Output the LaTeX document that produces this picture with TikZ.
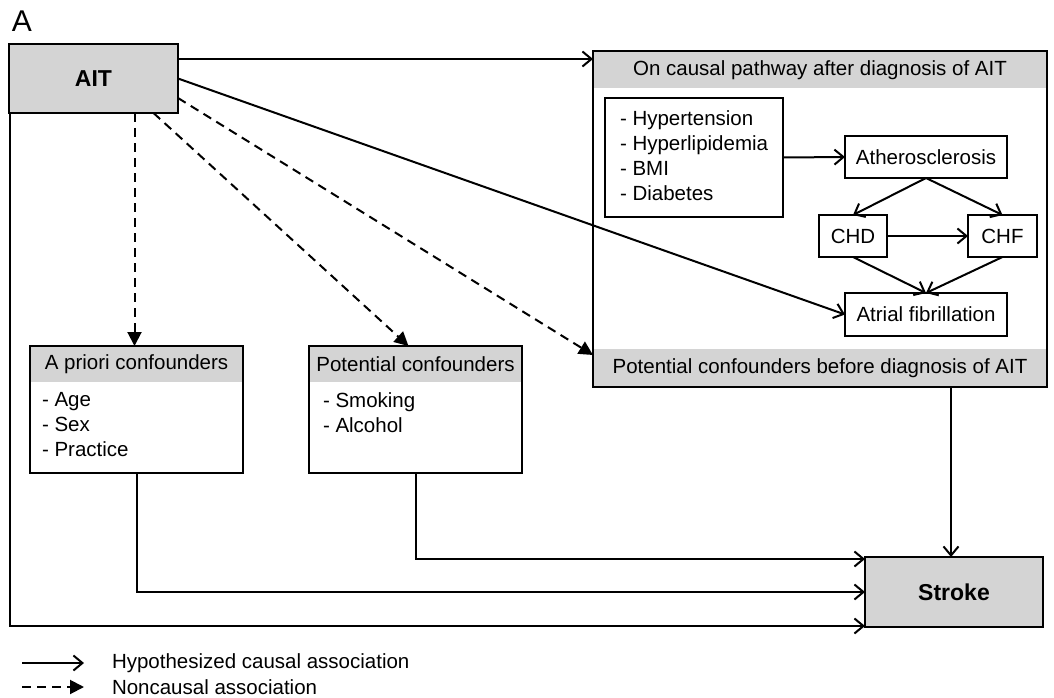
\documentclass[tikz,border=0pt]{standalone}
\usepackage{fontspec}
\setmainfont{Liberation Sans}
\usetikzlibrary{arrows.meta,calc,backgrounds}
\definecolor{boxgray}{RGB}{212,212,212}
\begin{document}
\begin{tikzpicture}[x=1pt,y=-1pt,
  every node/.style={font=\fontsize{20.5}{25}\selectfont, inner sep=0pt, outer sep=0pt},
  box/.style={draw, line width=2pt},
  boldtext/.style={font=\fontsize{23}{27}\selectfont\bfseries},
  causal/.style={line width=2pt, -{Straight Barb[length=9pt,width=15pt]}},
  noncausal/.style={line width=2pt, dash pattern=on 9pt off 6pt, -{Triangle[length=14pt,width=14pt]}},
  lst/.style={anchor=west, align=left},
]
\useasboundingbox (0,0) rectangle (1054,698);

% panel label
\node[font=\fontsize{30}{34}\selectfont] (lblA) at (22,21) {A};

% AIT
\node[box, fill=boxgray, minimum width=169pt, minimum height=69pt, boldtext] (ait) at (93.5,78.5) {AIT};

% big right box
\node[box, minimum width=454pt, minimum height=336pt] (big) at (820,219) {};
\begin{scope}[on background layer]
  \fill[boxgray] (big.north west) rectangle ($(big.north east)+(0,37)$);
  \fill[boxgray] ($(big.south west)+(0,-38)$) rectangle (big.south east);
\end{scope}
\node (bigh) at ($(big.north)+(0,19.5)$) {On causal pathway after diagnosis of AIT};
\node (bigf) at ($(big.south)+(0,-19)$) {Potential confounders before diagnosis of AIT};

\node[box, minimum width=178pt, minimum height=119pt] (risk) at (694,157.5) {};
\node[lst] (riskt) at (620,156) {- Hypertension\\- Hyperlipidemia\\- BMI\\- Diabetes};
\node[box, minimum width=162pt, minimum height=42pt] (ather) at (926,157) {Atherosclerosis};
\node[box, minimum width=68pt, minimum height=42pt] (chd) at (853,236) {CHD};
\node[box, minimum width=69pt, minimum height=42pt] (chf) at (1002.5,236) {CHF};
\node[box, minimum width=162pt, minimum height=43pt] (af) at (926,314.5) {Atrial fibrillation};

% confounder boxes
\node[box, minimum width=213pt, minimum height=127pt] (apr) at (136.5,409.5) {};
\node[box, minimum width=213pt, minimum height=127pt] (pot) at (415.5,409.5) {};
\begin{scope}[on background layer]
  \fill[boxgray] (apr.north west) rectangle ($(apr.north east)+(0,36)$);
  \fill[boxgray] (pot.north west) rectangle ($(pot.north east)+(0,36)$);
\end{scope}
\node (aprh) at ($(apr.north)+(0,18.5)$) {A priori confounders};
\node[lst] (aprt) at (42,425) {- Age\\- Sex\\- Practice};
\node (poth) at ($(pot.north)+(0,18.5)$) {Potential confounders};
\node[lst] (pott) at (323,412.5) {- Smoking\\- Alcohol};

% Stroke
\node[box, fill=boxgray, minimum width=178pt, minimum height=70pt, boldtext] (stroke) at (954,592) {Stroke};

% connectors
\coordinate (aito1) at ([yshift=19.5pt]ait.east);
\coordinate (aito2) at ([yshift=-19.5pt]ait.east);
\coordinate (bigin) at ([yshift=-136pt]big.west);
\draw[causal] (aito1) -- (aito1 -| big.west);
\draw[causal] (ait.east) -- (af.west);
\draw[noncausal] (aito2) -- (bigin);
\draw[noncausal] ([xshift=60pt]ait.south) -- ([xshift=-7pt]pot.north);
\draw[noncausal] ([xshift=-2pt]apr.north |- ait.south) -- ([xshift=-2pt]apr.north);
\draw[causal] (apr.south) |- (stroke.west);
\draw[causal] (pot.south) |- ([yshift=33pt]stroke.west);
\draw[causal] ([xshift=1pt]ait.south west) |- ([yshift=-34pt]stroke.west);
\draw[causal] ([xshift=-3pt]stroke.north |- big.south) -- ([xshift=-3pt]stroke.north);

\draw[causal] (risk.east) -- (ather.west);
\draw[causal] (ather.south) -- (chd.north);
\draw[causal] (ather.south) -- (chf.north);
\draw[causal] (chd.south) -- (af.north);
\draw[causal] (chf.south) -- (af.north);
\draw[causal] (chd.east) -- (chf.west);

% legend
\coordinate (l1s) at (22,663);
\coordinate (l1e) at (84,663);
\coordinate (l2s) at (22,687);
\coordinate (l2e) at (84,687);
\draw[causal] (l1s) -- (l1e);
\draw[noncausal] (l2s) -- (l2e);
\node[anchor=west] (l1) at (112,663) {Hypothesized causal association};
\node[anchor=west] (l2) at (112,687) {Noncausal association};
\end{tikzpicture}
\end{document}
